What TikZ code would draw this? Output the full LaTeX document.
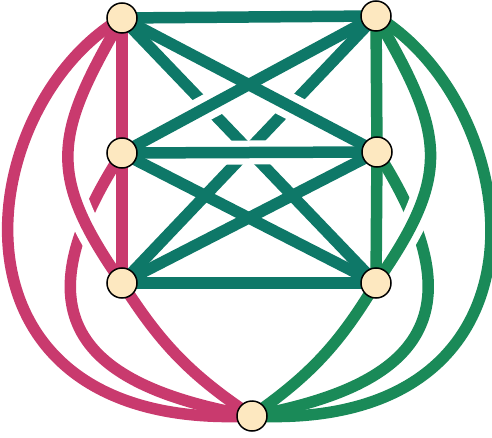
\documentclass[tikz,border=0pt]{standalone}
\usepackage{xcolor}
\usepackage{tikz}
\usetikzlibrary{backgrounds}
\definecolor{graphpink}{RGB}{201,58,110}
\definecolor{graphgreen}{RGB}{26,138,88}
\definecolor{graphteal}{RGB}{14,120,104}
\definecolor{vertexcream}{RGB}{253,232,192}

\begin{document}
\begin{tikzpicture}[
        x=1pt,y=1pt,
        vertex/.style={circle,draw=black,line width=1.5pt,fill=vertexcream,
                   minimum size=30pt,inner sep=0pt},
        tealedge/.style={draw=graphteal,line width=11.5pt},
        pinkedge/.style={draw=graphpink,line width=11.5pt},
        greenedge/.style={draw=graphgreen,line width=11.5pt},
        whitegap/.style={draw=white,line width=26pt}
    ]
        \useasboundingbox (0,0) rectangle (492,437);
        \node[vertex] (tl) at (122,419) {};
        \node[vertex] (tr) at (376,421) {};
        \node[vertex] (ml) at (122,284) {};
        \node[vertex] (mr) at (377,285) {};
        \node[vertex] (bl) at (122,154) {};
        \node[vertex] (br) at (376,154) {};
        \node[vertex] (b) at (252,21) {};
        \begin{scope}[on background layer]
        \draw[tealedge] (tl.center) -- (br.center);
        \draw[tealedge] (tr.center) -- (bl.center);
        \draw[whitegap,shorten <=70pt,shorten >=70pt] (tl.center) -- (mr.center);
        \draw[whitegap,shorten <=70pt,shorten >=70pt] (ml.center) -- (tr.center);
        \draw[whitegap,line width=24pt,shorten <=100pt,shorten >=100pt] (ml.center) -- (mr.center);
        \draw[tealedge] (tl.center) -- (tr.center);
        \draw[tealedge] (ml.center) -- (mr.center);
        \draw[tealedge] (bl.center) -- (br.center);
        \draw[tealedge] (tl.center) -- (mr.center);
        \draw[tealedge] (ml.center) -- (tr.center);
        \draw[tealedge] (ml.center) -- (br.center);
        \draw[tealedge] (bl.center) -- (mr.center);
        \draw[pinkedge] (ml.center) .. controls (18.5,124.6) and (74.7,52.3) .. (b.center);
        \begin{scope}
            \clip (80,215) circle (38);
            \draw[whitegap] (tl.center) to[out=240,in=125,looseness=1.3] (bl.center);
        \end{scope}
        \draw[pinkedge] (tl.center) to[out=240,in=125,looseness=1.3] (bl.center);
        \draw[pinkedge] (tl.center) .. controls (-30,330) and (-70,5) .. (b.center);
        \draw[pinkedge] (bl.center) to[bend right=12] (b.center);
        \draw[pinkedge] (tl.center) -- (ml.center) -- (bl.center);
        \draw[greenedge] (mr.center) .. controls (479.5,124.6) and (423.3,52.3) .. (b.center);
        \begin{scope}
            \clip (418,215) circle (38);
            \draw[whitegap] (tr.center) to[out=-60,in=55,looseness=1.3] (br.center);
        \end{scope}
        \draw[greenedge] (tr.center) to[out=-60,in=55,looseness=1.3] (br.center);
        \draw[greenedge] (tr.center) .. controls (528,330) and (568,5) .. (b.center);
        \draw[greenedge] (br.center) to[bend left=12] (b.center);
        \draw[greenedge] (tr.center) -- (mr.center) -- (br.center);
        \end{scope}
    \end{tikzpicture}
\end{document}
